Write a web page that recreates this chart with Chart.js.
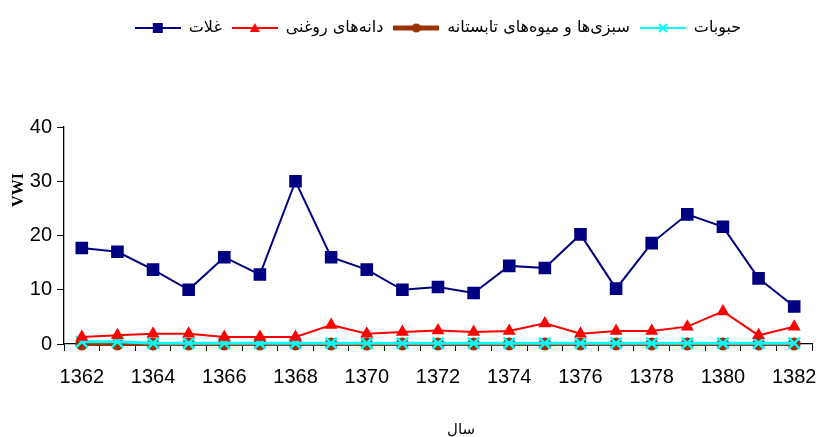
<!DOCTYPE html>
<html>
<head>
<meta charset="utf-8">
<script src="https://cdn.jsdelivr.net/npm/chart.js@4.4.1/dist/chart.umd.min.js"></script>
<style>
  html, body { margin: 0; padding: 0; background: #fff; }
</style>
</head>
<body>
<canvas id="chart" width="832" height="437"></canvas>
<script>
const years = [1362, 1363, 1364, 1365, 1366, 1367, 1368, 1369, 1370, 1371, 1372,
  1373, 1374, 1375, 1376, 1377, 1378, 1379, 1380, 1381, 1382];
const cereals = [17.7, 17.0, 13.7, 10.0, 16.0, 12.8, 30.0, 16.0, 13.7, 10.0, 10.5,
  9.4, 14.4, 14.0, 20.2, 10.2, 18.6, 23.9, 21.6, 12.1, 6.9];
const oilseeds = [1.3, 1.6, 1.9, 1.9, 1.3, 1.3, 1.3, 3.5, 1.9, 2.2, 2.5,
  2.2, 2.4, 3.8, 1.9, 2.4, 2.4, 3.2, 6.0, 1.6, 3.2];
const summerVeg = [0, 0, 0, 0, 0, 0, 0, 0, 0, 0, 0,
  0, 0, 0, 0, 0, 0, 0, 0, 0, 0];
const pulses = [0.4, 0.4, 0.15, 0.15, 0.15, 0.15, 0.15, 0.15, 0.15, 0.15, 0.15,
  0.15, 0.15, 0.15, 0.15, 0.15, 0.15, 0.15, 0.15, 0.15, 0.15];
const seriesNames = ["غلات", "دانه‌های روغنی", "سبزی‌ها و میوه‌های تابستانه", "حبوبات"];
const yTitle = "VWI";
const xTitle = "سال";

// small line+marker pictures for the legend
function makeSample(color, lineWidth, marker) {
  const c = document.createElement("canvas");
  c.width = 46;
  c.height = 14;
  const g = c.getContext("2d");
  g.strokeStyle = color;
  g.fillStyle = color;
  g.lineWidth = lineWidth;
  g.beginPath();
  g.moveTo(0, 7);
  g.lineTo(46, 7);
  g.stroke();
  g.beginPath();
  if (marker === "square") {
    g.fillRect(18, 2, 10, 10);
  } else if (marker === "triangle") {
    g.moveTo(23, 2);
    g.lineTo(28, 11);
    g.lineTo(18, 11);
    g.closePath();
    g.fill();
  } else if (marker === "circle") {
    g.arc(23, 7, 4.5, 0, Math.PI * 2);
    g.fill();
  } else {
    g.lineWidth = 2;
    g.moveTo(19, 3);
    g.lineTo(27, 11);
    g.moveTo(27, 3);
    g.lineTo(19, 11);
    g.stroke();
  }
  return c;
}

const samples = [
  makeSample("#000080", 2, "square"),
  makeSample("#ff0000", 2, "triangle"),
  makeSample("#993300", 5, "circle"),
  makeSample("#00ffff", 2, "cross"),
];

const axisTitles = {
  id: "axisTitles",
  afterDraw(chart) {
    const c = chart.ctx;
    c.save();
    c.fillStyle = "#000";
    c.textAlign = "center";
    c.textBaseline = "middle";
    c.font = 'bold 16px "Liberation Serif", serif';
    c.translate(19, 190);
    c.rotate(-Math.PI / 2);
    c.fillText(yTitle, 0, 0);
    c.restore();
    c.save();
    c.fillStyle = "#000";
    c.textAlign = "center";
    c.textBaseline = "middle";
    c.font = '15px "DejaVu Sans", sans-serif';
    c.fillText(xTitle, 461, 430);
    c.restore();
  },
};

Chart.defaults.color = "#000";
const tickFont = { family: '"Liberation Sans", Arial, sans-serif', size: 20 };

const ctx = document.getElementById("chart").getContext("2d");
const chart = new Chart(ctx, {
  type: "line",
  data: {
    labels: years,
    datasets: [
      {
        label: seriesNames[0],
        data: cereals,
        borderColor: "#000080",
        backgroundColor: "#000080",
        borderWidth: 2,
        pointStyle: "rect",
        pointRadius: 7.5,
        order: 0,
      },
      {
        label: seriesNames[1],
        data: oilseeds,
        borderColor: "#ff0000",
        backgroundColor: "#ff0000",
        borderWidth: 2,
        pointStyle: "triangle",
        pointRadius: 5.5,
        order: 1,
      },
      {
        label: seriesNames[2],
        data: summerVeg,
        borderColor: "#993300",
        backgroundColor: "#993300",
        borderWidth: 4,
        pointStyle: "circle",
        pointRadius: 4.5,
        clip: false,
        order: 3,
      },
      {
        label: seriesNames[3],
        data: pulses,
        borderColor: "#00ffff",
        backgroundColor: "#00ffff",
        borderWidth: 3,
        pointStyle: "crossRot",
        pointRadius: 8,
        pointBorderWidth: 2.5,
        clip: false,
        order: 2,
      },
    ],
  },
  options: {
    responsive: false,
    animation: false,
    tension: 0,
    layout: {
      padding: { top: 10, right: 20, left: 0, bottom: 0 },
    },
    scales: {
      x: {
        offset: true,
        grid: {
          offset: true,
          drawOnChartArea: false,
          drawTicks: true,
          tickLength: 7,
          color: "#000",
        },
        border: { color: "#000", width: 1.3 },
        ticks: {
          font: tickFont,
          padding: 14,
          maxRotation: 0,
          autoSkip: false,
          callback: function (value, index) {
            return index % 2 === 0 ? years[index] : "";
          },
        },
        afterFit(scale) {
          scale.height = 93;
        },
      },
      xTop: {
        type: "linear",
        position: "top",
        display: true,
        ticks: { display: false },
        grid: { display: false },
        border: { display: false },
        afterFit(scale) {
          scale.height = 81;
        },
      },
      y: {
        min: 0,
        max: 40,
        ticks: {
          stepSize: 10,
          font: tickFont,
          padding: 5,
        },
        grid: {
          drawOnChartArea: false,
          drawTicks: true,
          tickLength: 7,
          color: "#000",
        },
        border: { color: "#000", width: 1.3 },
        afterFit(scale) {
          scale.width = 64;
        },
      },
    },
    plugins: {
      legend: {
        position: "top",
        fullSize: false,
        labels: {
          usePointStyle: true,
          pointStyleWidth: 46,
          padding: 10,
          font: { family: '"DejaVu Sans", sans-serif', size: 16 },
          sort: (a, b) => a.datasetIndex - b.datasetIndex,
          generateLabels(chart) {
            const items = Chart.defaults.plugins.legend.labels.generateLabels(chart);
            items.forEach((it) => {
              it.pointStyle = samples[it.datasetIndex];
            });
            return items;
          },
        },
      },
      tooltip: { enabled: false },
    },
  },
  plugins: [axisTitles],
});
</script>
</body>
</html>
